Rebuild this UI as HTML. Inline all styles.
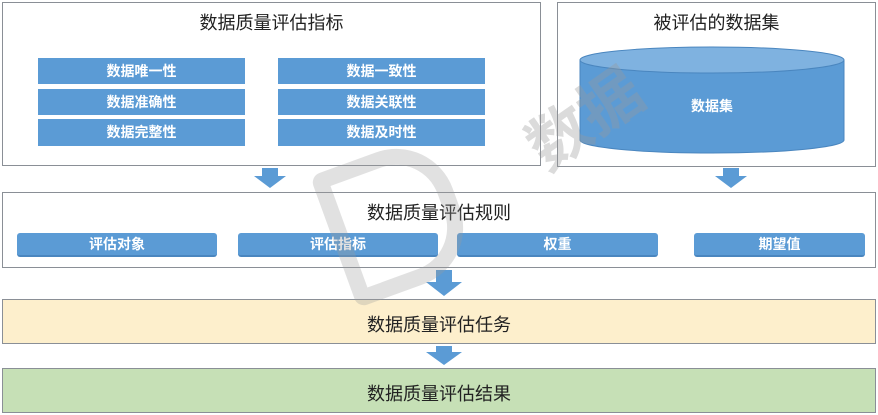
<!DOCTYPE html>
<html><head><meta charset="utf-8"><style>
body{margin:0;width:878px;height:415px;background:#fff;position:relative;overflow:hidden;font-family:"Liberation Sans","Noto Sans CJK SC",sans-serif;}
.a{position:absolute;box-sizing:border-box;}
.frame{border:1px solid #8a8f96;background:#fff;}
.t{position:absolute;left:0;right:0;text-align:center;font-size:18px;color:#222;}
.b{position:absolute;background:#5b9bd5;color:#fff;font-weight:bold;font-size:14px;text-align:center;box-sizing:border-box;}
.r{border-radius:3px;border-bottom:2px solid #4a86bf;}
.arrow{position:absolute;width:0;height:0;}
</style></head><body>
<div class="a frame" style="left:2px;top:2px;width:539px;height:164px;">
<div class="t" style="top:6px;">数据质量评估指标</div>
</div>
<div class="b" style="left:38px;top:58px;width:207px;height:26px;line-height:26px;">数据唯一性</div>
<div class="b" style="left:38px;top:89px;width:207px;height:26px;line-height:26px;">数据准确性</div>
<div class="b" style="left:38px;top:119px;width:207px;height:27px;line-height:27px;">数据完整性</div>
<div class="b" style="left:278px;top:58px;width:207px;height:26px;line-height:26px;">数据一致性</div>
<div class="b" style="left:278px;top:89px;width:207px;height:26px;line-height:26px;">数据关联性</div>
<div class="b" style="left:278px;top:119px;width:207px;height:27px;line-height:27px;">数据及时性</div>

<div class="a frame" style="left:557px;top:2px;width:319px;height:165px;">
<div class="t" style="top:6px;">被评估的数据集</div>
</div>
<svg class="a" style="left:575px;top:40px;" width="280" height="120">
<path d="M5 20 L5 100 A132 13 0 0 0 269 100 L269 20 Z" fill="#5b9bd5" stroke="#4a86bf"/>
<ellipse cx="137" cy="20" rx="132" ry="13" fill="#7fb2e0" stroke="#4a86bf"/>
<text x="137" y="71" text-anchor="middle" font-size="14" font-weight="bold" fill="#fff" font-family="Liberation Sans, Noto Sans CJK SC, sans-serif">数据集</text>
</svg>

<svg class="a" style="left:0;top:0" width="878" height="415">
<g fill="#5b9bd5">
<path d="M262 168 h16 v8 h8 l-16 12 l-16 -12 h8z"/>
<path d="M723 168 h16 v8 h8 l-16 12 l-16 -12 h8z"/>
<path d="M436 270 h16 v12 h10 l-18 14 l-18 -14 h10z"/>
<path d="M436 346 h16 v6 h10 l-18 13 l-18 -13 h10z"/>
</g>
</svg>

<div class="a frame" style="left:2px;top:192px;width:874px;height:76px;">
<div class="t" style="top:6px;">数据质量评估规则</div>
</div>
<div class="b r" style="left:17px;top:233px;width:200px;height:24px;line-height:23px;">评估对象</div>
<div class="b r" style="left:238px;top:233px;width:200px;height:24px;line-height:23px;">评估指标</div>
<div class="b r" style="left:457px;top:233px;width:201px;height:24px;line-height:23px;">权重</div>
<div class="b r" style="left:694px;top:233px;width:171px;height:24px;line-height:23px;">期望值</div>

<div class="a" style="left:2px;top:299px;width:874px;height:45px;background:#fdefcc;border:1px solid #8a8f96;">
<div class="t" style="top:11px;">数据质量评估任务</div></div>
<div class="a" style="left:2px;top:368px;width:874px;height:45px;background:#c6e0b6;border:1px solid #8a8f96;">
<div class="t" style="top:11px;">数据质量评估结果</div></div>

<div class="a" style="left:520px;top:70px;font-size:62px;font-weight:bold;color:#9a9a9a;opacity:0.35;transform:rotate(-35deg);font-family:'Noto Sans CJK SC',sans-serif;">数据</div>
<div class="a" style="left:330px;top:150px;width:130px;height:140px;border:16px solid #9a9a9a;border-radius:10px 60px 60px 10px;opacity:0.3;transform:rotate(-20deg);"></div>
</body></html>
